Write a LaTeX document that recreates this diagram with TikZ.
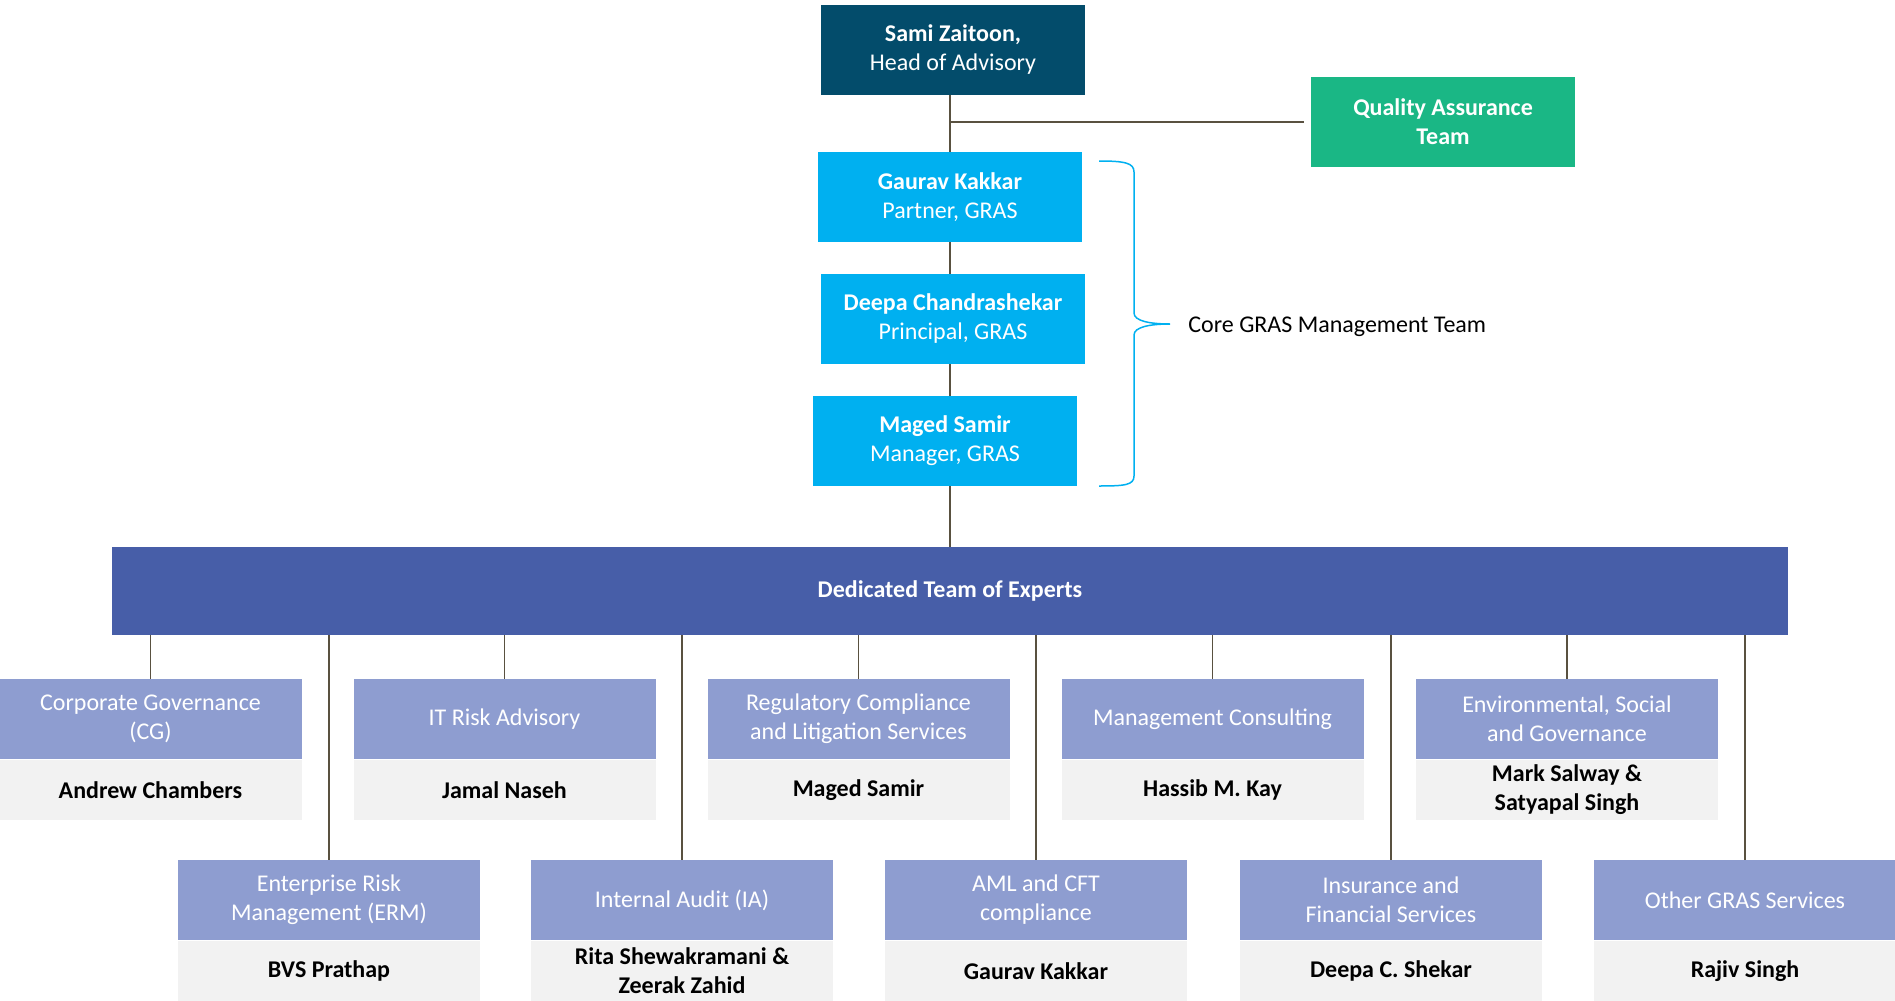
\documentclass[tikz,border=0pt]{standalone}
\usepackage{fontspec}
\setmainfont{Carlito}
\definecolor{headblue}{RGB}{3,76,107}
\definecolor{qagreen}{RGB}{26,183,133}
\definecolor{coreblue}{RGB}{0,176,240}
\definecolor{barblue}{RGB}{71,94,168}
\definecolor{unitblue}{RGB}{142,157,208}
\definecolor{namegray}{RGB}{242,242,242}
\definecolor{linkbrown}{RGB}{89,81,64}
\begin{document}
\begin{tikzpicture}[x=0.5pt,y=0.5pt,yscale=-1,xscale=1,
    every node/.style={inner sep=0pt,align=center,font=\fontsize{12}{14.5}\selectfont},
    topbox/.style={fill=#1,text=white,minimum width=132pt,minimum height=45pt},
    unitbox/.style={fill=unitblue,text=white,minimum width=151pt,minimum height=40pt},
    namebox/.style={fill=namegray,text=black,font=\fontsize{12}{14.5}\selectfont\bfseries,minimum width=151pt,minimum height=30pt,anchor=north},
    link/.style={draw=linkbrown,line width=0.75pt}]
\useasboundingbox (0,0) rectangle (1895,1001);

% Head and core team
\node[topbox=headblue] (sami) at (953,49.5) {\textbf{Sami Zaitoon,}\\Head of Advisory};
\node[topbox=qagreen] (qa) at (1443,122) {\textbf{Quality Assurance}\\\textbf{Team}};
\node[topbox=coreblue] (gaurav) at (950,197) {\textbf{Gaurav Kakkar}\\Partner, GRAS};
\node[topbox=coreblue] (deepa) at (953,319) {\textbf{Deepa Chandrashekar}\\Principal, GRAS};
\node[topbox=coreblue] (maged) at (945,441) {\textbf{Maged Samir}\\Manager, GRAS};

% Bar of experts
\node[fill=barblue,text=white,font=\fontsize{12}{14.5}\selectfont\bfseries,minimum width=838pt,minimum height=44pt] (bar) at (950,591) {Dedicated Team of Experts};

% Spine
\draw[link] (gaurav.north |- sami.south) -- (gaurav.north);
\draw[link] (gaurav.south) -- (gaurav.south |- deepa.north);
\draw[link] (gaurav.south |- deepa.south) -- (gaurav.south |- maged.north);
\draw[link] (gaurav.south |- maged.south) -- (gaurav.south |- bar.north);
\draw[link] (gaurav.north |- qa.west) -- ([xshift=-3.5pt]qa.west);

% Brace
\draw[coreblue,line width=0.75pt] (1099,161) .. controls (1125,161) and (1134,163) .. (1134,172) -- (1134,313) .. controls (1134,321) and (1150,324) .. (1170,324) .. controls (1150,324) and (1134,327) .. (1134,335) -- (1134,476) .. controls (1134,485) and (1125,486) .. (1099,486);
\node[anchor=west] (coretxt) at (1188,327) {Core GRAS Management Team};

% Units, first row
\node[unitbox] (cg) at (150.5,719) {Corporate Governance\\(CG)};
\node[namebox] (cgname) at (cg.south) {Andrew Chambers};
\node[unitbox] (itr) at (504.5,719) {IT Risk Advisory};
\node[namebox] (itrname) at (itr.south) {Jamal Naseh};
\node[unitbox] (reg) at (858.5,719) {Regulatory Compliance\\and Litigation Services};
\node[namebox] (regname) at (reg.south) {Maged Samir};
\node[unitbox] (mc) at (1212.5,719) {Management Consulting};
\node[namebox] (mcname) at (mc.south) {Hassib M. Kay};
\node[unitbox] (esg) at (1567,719) {Environmental, Social\\and Governance};
\node[namebox] (esgname) at (esg.south) {Mark Salway \&\\Satyapal Singh};

% Units, second row
\node[unitbox] (erm) at (329,900) {Enterprise Risk\\Management (ERM)};
\node[namebox] (ermname) at (erm.south) {BVS Prathap};
\node[unitbox] (ia) at (682,900) {Internal Audit (IA)};
\node[namebox] (ianame) at (ia.south) {Rita Shewakramani \&\\Zeerak Zahid};
\node[unitbox] (aml) at (1036,900) {AML and CFT\\compliance};
\node[namebox] (amlname) at (aml.south) {Gaurav Kakkar};
\node[unitbox] (ins) at (1391,900) {Insurance and\\Financial Services};
\node[namebox] (insname) at (ins.south) {Deepa C. Shekar};
\node[unitbox] (other) at (1745,900) {Other GRAS Services};
\node[namebox] (othername) at (other.south) {Rajiv Singh};

% Links from bar
\draw[link] (bar.south -| cg.north) -- (cg.north);
\draw[link] (bar.south -| erm.north) -- (erm.north);
\draw[link] (bar.south -| itr.north) -- (itr.north);
\draw[link] (bar.south -| ia.north) -- (ia.north);
\draw[link] (bar.south -| reg.north) -- (reg.north);
\draw[link] (bar.south -| aml.north) -- (aml.north);
\draw[link] (bar.south -| mc.north) -- (mc.north);
\draw[link] (bar.south -| ins.north) -- (ins.north);
\draw[link] (bar.south -| esg.north) -- (esg.north);
\draw[link] (bar.south -| other.north) -- (other.north);
\end{tikzpicture}
\end{document}
